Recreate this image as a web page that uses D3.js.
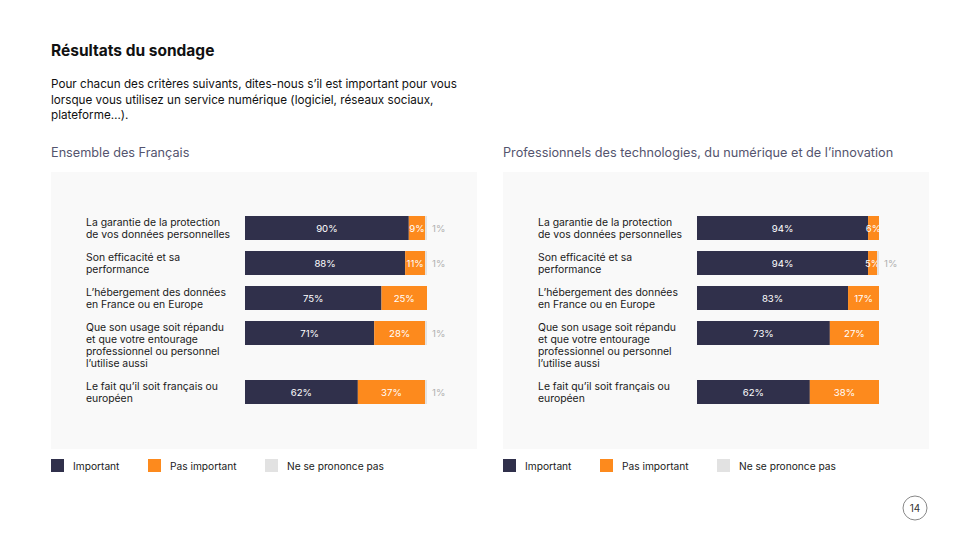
<!DOCTYPE html>
<html>
    <head>
        <meta charset="utf-8" />
        <title>Résultats du sondage</title>
        <script src="https://d3js.org/d3.v7.min.js"></script>
        <style>
            body {
                margin: 0;
                background: #fff;
            }
            svg text {
                font-family: Inter, 'Noto Sans', sans-serif;
            }
        </style>
    </head>
    <body>
        <svg id="chart" width="980" height="551"></svg>
        <script>
            var categories = [
                ['La garantie de la protection', 'de vos données personnelles'],
                ['Son efficacité et sa', 'performance'],
                ['L’hébergement des données', 'en France ou en Europe'],
                ['Que son usage soit répandu', 'et que votre entourage', 'professionnel ou personnel', 'l’utilise aussi'],
                ['Le fait qu’il soit français ou', 'européen'],
            ];
            var seriesNames = ['Important', 'Pas important', 'Ne se prononce pas'];

            var francaisImportant = [90, 88, 75, 71, 62];
            var francaisPasImportant = [9, 11, 25, 28, 37];
            var francaisNsp = [1, 1, 0, 1, 1];

            var prosImportant = [94, 94, 83, 73, 62];
            var prosPasImportant = [6, 5, 17, 27, 38];
            var prosNsp = [0, 1, 0, 0, 0];

            var colors = ['#30304b', '#fd8a1d', '#e2e2e2'];

            var svg = d3.select('#chart');

            // header
            svg.append('text')
                .attr('x', 51)
                .attr('y', 56)
                .attr('font-size', 15.5)
                .attr('font-weight', 700)
                .attr('fill', '#111')
                .text('Résultats du sondage');

            var intro = [
                'Pour chacun des critères suivants, dites-nous s’il est important pour vous',
                'lorsque vous utilisez un service numérique (logiciel, réseaux sociaux,',
                'plateforme…).',
            ];
            svg.append('g')
                .selectAll('text')
                .data(intro)
                .enter()
                .append('text')
                .attr('x', 51)
                .attr('y', (d, i) => 88 + i * 15.5)
                .attr('font-size', 11.7)
                .attr('fill', '#111')
                .text((d) => d);

            function drawPanel(x0, title, important, pasImportant, nsp) {
                var g = svg.append('g').attr('transform', 'translate(' + x0 + ',0)');

                g.append('text')
                    .attr('x', 0)
                    .attr('y', 157)
                    .attr('font-size', 12.7)
                    .attr('fill', '#54546e')
                    .text(title);

                g.append('rect')
                    .attr('x', 0)
                    .attr('y', 172)
                    .attr('width', 426)
                    .attr('height', 277)
                    .attr('fill', '#f9f9f9');

                var x = d3.scaleLinear().domain([0, 100]).range([194, 376]);

                // row tops follow the number of label lines
                var lineH = 12;
                var tops = [];
                var acc = 216;
                categories.forEach(function (c) {
                    tops.push(acc);
                    acc += c.length * lineH + 11;
                });
                var y = d3.scaleOrdinal().domain(d3.range(categories.length)).range(tops);
                var barH = 24;

                var rows = categories.map(function (c, i) {
                    return { lines: c, values: [important[i], pasImportant[i], nsp[i]] };
                });

                var row = g.selectAll('g.row')
                    .data(rows)
                    .enter()
                    .append('g')
                    .attr('class', 'row')
                    .attr('transform', (d, i) => 'translate(0,' + y(i) + ')');

                row.append('text')
                    .attr('x', 35)
                    .attr('font-size', 10.4)
                    .attr('fill', '#1a1a1a')
                    .selectAll('tspan')
                    .data((d) => d.lines)
                    .enter()
                    .append('tspan')
                    .attr('x', 35)
                    .attr('y', (d, i) => 10 + i * lineH)
                    .text((d) => d);

                row.each(function (d) {
                    var r = d3.select(this);
                    var start = 0;
                    d.values.forEach(function (v, k) {
                        if (v <= 0) return;
                        r.append('rect')
                            .attr('x', x(start))
                            .attr('y', 0)
                            .attr('width', x(start + v) - x(start))
                            .attr('height', barH)
                            .attr('fill', colors[k]);
                        if (k < 2) {
                            r.append('text')
                                .attr('x', (x(start) + x(start + v)) / 2)
                                .attr('y', barH / 2 + 3.5)
                                .attr('text-anchor', 'middle')
                                .attr('font-size', 9.6)
                                .attr('fill', '#fff')
                                .text(v + '%');
                        } else {
                            r.append('text')
                                .attr('x', x(100) + 5)
                                .attr('y', barH / 2 + 3.5)
                                .attr('font-size', 9.6)
                                .attr('fill', '#b0b0b0')
                                .text(v + '%');
                        }
                        start += v;
                    });
                });

                // legend
                var legendX = [0, 97, 214];
                var leg = g.selectAll('g.legend')
                    .data(seriesNames)
                    .enter()
                    .append('g')
                    .attr('class', 'legend')
                    .attr('transform', (d, i) => 'translate(' + legendX[i] + ',459)');
                leg.append('rect')
                    .attr('width', 13)
                    .attr('height', 13)
                    .attr('fill', (d, i) => colors[i]);
                leg.append('text')
                    .attr('x', 22)
                    .attr('y', 10.5)
                    .attr('font-size', 10.2)
                    .attr('fill', '#1a1a1a')
                    .text((d) => d);
            }

            drawPanel(51, 'Ensemble des Français', francaisImportant, francaisPasImportant, francaisNsp);
            drawPanel(503, 'Professionnels des technologies, du numérique et de l’innovation', prosImportant, prosPasImportant, prosNsp);

            // page number
            svg.append('circle')
                .attr('cx', 915)
                .attr('cy', 508)
                .attr('r', 12)
                .attr('fill', 'none')
                .attr('stroke', '#888')
                .attr('stroke-width', 1);
            svg.append('text')
                .attr('x', 915)
                .attr('y', 512)
                .attr('text-anchor', 'middle')
                .attr('font-size', 10)
                .attr('fill', '#333')
                .text('14');
        </script>
    </body>
</html>
